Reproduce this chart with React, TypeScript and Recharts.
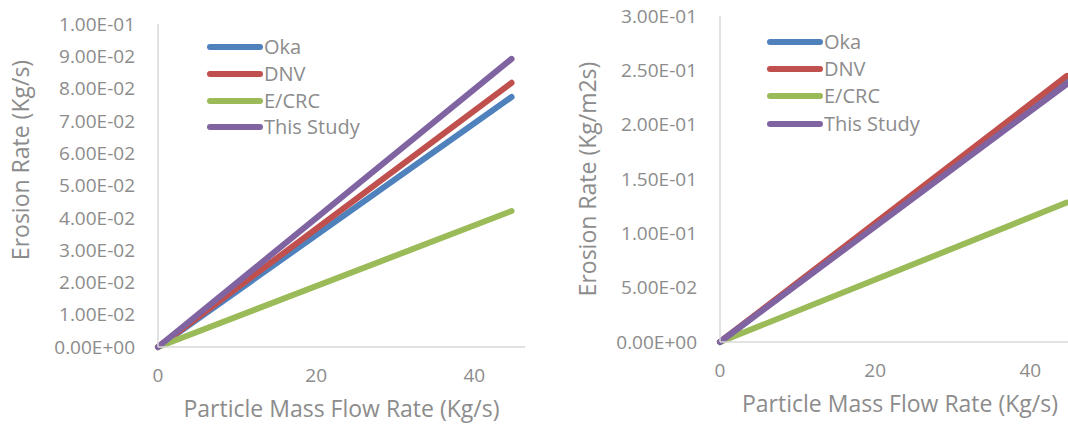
import React from "react";
import { Line, LineChart, XAxis, YAxis } from "recharts";

const seriesNames = ["Oka", "DNV", "E/CRC", "This Study"];
const seriesColors = ["#4F81BD", "#C0504D", "#9BBB59", "#8064A2"];

const massFlow = [0, 44.7];

// left panel: Erosion Rate (Kg/s)
const okaLeft = [0, 0.0774];
const dnvLeft = [0, 0.0818];
const ecrcLeft = [0, 0.0421];
const studyLeft = [0, 0.0892];

// right panel: Erosion Rate (Kg/m2s)
const okaRight = [0, 0.2411];
const dnvRight = [0, 0.2448];
const ecrcRight = [0, 0.1283];
const studyRight = [0, 0.2374];

const xTicks = [0, 20, 40];
const leftTicks = [0, 0.01, 0.02, 0.03, 0.04, 0.05, 0.06, 0.07, 0.08, 0.09, 0.1];
const rightTicks = [0, 0.05, 0.1, 0.15, 0.2, 0.25, 0.3];

const FONT = "'Open Sans', sans-serif";
const TEXT = "#8c8c8c";
const AXIS = "#d9d9d9";

const sci = (v: number) => {
  const [m, e] = v.toExponential(2).split("e");
  return `${m}E${e[0]}${e.slice(1).padStart(2, "0")}`;
};

const build = (a: number[], b: number[], c: number[], d: number[]) =>
  massFlow.map((x, i) => ({ x, Oka: a[i], DNV: b[i], "E/CRC": c[i], "This Study": d[i] }));

const leftData = build(okaLeft, dnvLeft, ecrcLeft, studyLeft);
const rightData = build(okaRight, dnvRight, ecrcRight, studyRight);

// plain html legend so recharts doesn't reserve space for it (and keeps series order)
function LegendBox({ left, top, rowH }: { left: number; top: number; rowH: number }) {
  return (
    <div
      style={{
        position: "absolute",
        left,
        top,
        fontFamily: FONT,
        fontSize: 20,
        color: TEXT,
        pointerEvents: "none",
      }}
    >
      {seriesNames.map((name, i) => (
        <div key={name} style={{ display: "flex", alignItems: "center", height: rowH }}>
          <svg width={58} height={10}>
            <line x1={4} y1={5} x2={54} y2={5} stroke={seriesColors[i]} strokeWidth={6} strokeLinecap="round" />
          </svg>
          <span style={{ lineHeight: 1, whiteSpace: "nowrap" }}>{name}</span>
        </div>
      ))}
    </div>
  );
}

type PanelProps = {
  data: any[];
  left: number;
  width: number;
  yWidth: number;
  top: number;
  xHeight: number;
  right: number;
  yTicks: number[];
  yMax: number;
  yTitle: string;
  yTitleX: number;
  yTitleY: number;
  legendLeft: number;
  legendTop: number;
  rowH: number;
};

function Panel(p: PanelProps) {
  return (
    <div style={{ position: "absolute", left: p.left, top: 0, width: p.width, height: 427 }}>
      <LineChart
        width={p.width}
        height={427}
        data={p.data}
        margin={{ top: p.top, right: p.right, left: 0, bottom: 0 }}
      >
        <XAxis
          dataKey="x"
          type="number"
          domain={[0, 46.4]}
          ticks={xTicks}
          height={p.xHeight}
          tickLine={false}
          tickSize={0}
          tickMargin={22}
          axisLine={{ stroke: AXIS, strokeWidth: 1.5 }}
          tick={{ fill: TEXT, fontSize: 19, fontFamily: FONT }}
          label={{
            content: ({ viewBox }: any) => (
              <text
                x={viewBox.x + viewBox.width / 2}
                y={viewBox.y + 70}
                textAnchor="middle"
                fill={TEXT}
                fontSize={23}
                fontFamily={FONT}
              >
                Particle Mass Flow Rate (Kg/s)
              </text>
            ),
          }}
        />
        <YAxis
          type="number"
          domain={[0, p.yMax]}
          ticks={p.yTicks}
          width={p.yWidth}
          interval={0}
          tickLine={false}
          tickSize={0}
          tickMargin={23}
          tickFormatter={sci}
          axisLine={{ stroke: AXIS, strokeWidth: 1.5 }}
          tick={{ fill: TEXT, fontSize: 19, fontFamily: FONT }}
          label={{
            content: () => (
              <text
                x={p.yTitleX}
                y={p.yTitleY}
                transform={`rotate(-90 ${p.yTitleX} ${p.yTitleY})`}
                textAnchor="middle"
                fill={TEXT}
                fontSize={23}
                fontFamily={FONT}
              >
                {p.yTitle}
              </text>
            ),
          }}
        />
        {seriesNames.map((name, i) => (
          <Line
            key={name}
            type="linear"
            dataKey={name}
            stroke={seriesColors[i]}
            strokeWidth={6}
            strokeLinecap="round"
            dot={false}
            activeDot={false}
            isAnimationActive={false}
          />
        ))}
      </LineChart>
      <LegendBox left={p.legendLeft} top={p.legendTop} rowH={p.rowH} />
    </div>
  );
}

export default function App() {
  return (
    <div
      style={{
        position: "fixed",
        left: 0,
        top: 0,
        width: 1068,
        height: 427,
        overflow: "hidden",
        background: "#fff",
      }}
    >
      <Panel
        data={leftData}
        left={0}
        width={540}
        yWidth={158}
        top={24}
        xHeight={80}
        right={15}
        yTicks={leftTicks}
        yMax={0.1}
        yTitle="Erosion Rate (Kg/s)"
        yTitleX={29}
        yTitleY={160}
        legendLeft={206}
        legendTop={34}
        rowH={26.7}
      />
      <Panel
        data={rightData}
        left={540}
        width={552}
        yWidth={180}
        top={16}
        xHeight={85}
        right={12}
        yTicks={rightTicks}
        yMax={0.3}
        yTitle="Erosion Rate (Kg/m2s)"
        yTitleX={56}
        yTitleY={179}
        legendLeft={226}
        legendTop={28}
        rowH={27.3}
      />
    </div>
  );
}
